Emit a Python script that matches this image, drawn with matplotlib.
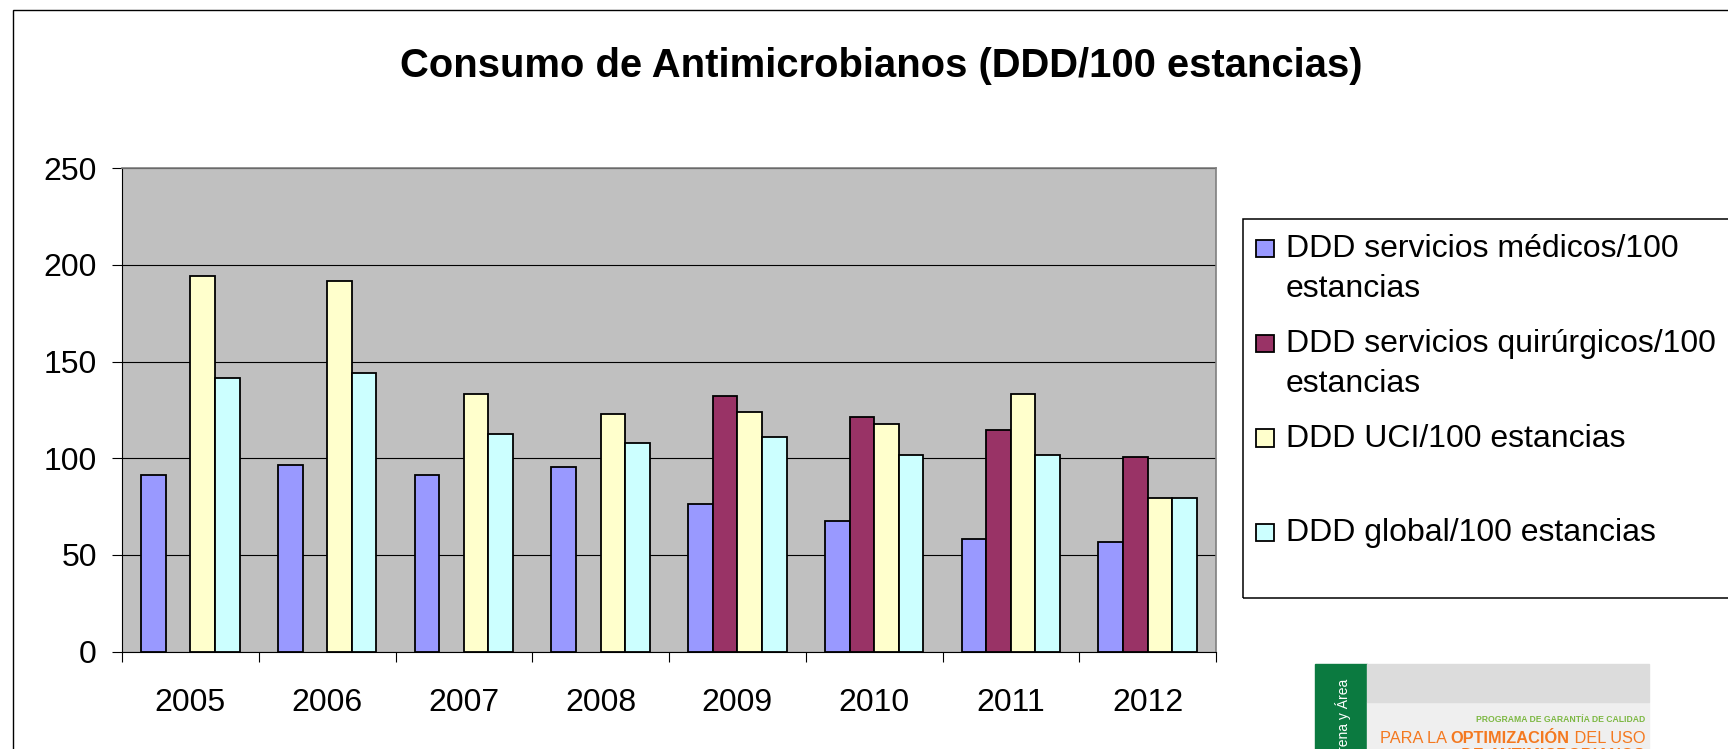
import matplotlib
matplotlib.use("Agg")
import matplotlib.pyplot as plt
import numpy as np
from matplotlib.patches import Rectangle

plt.rcParams["font.family"] = ["Liberation Sans", "DejaVu Sans"]

# datos
years = ["2005", "2006", "2007", "2008", "2009", "2010", "2011", "2012"]
medicos = [91.3, 96.4, 91.3, 95.2, 76.4, 67.5, 58.2, 56.8]
quirurgicos = [np.nan, np.nan, np.nan, np.nan, 132.1, 121.4, 114.8, 100.4]
uci = [194.2, 191.6, 133.4, 122.8, 124.1, 117.6, 133.4, 79.2]
global_ddd = [141.4, 144.1, 112.3, 108.1, 111.1, 101.8, 101.8, 79.2]

series_labels = ["DDD servicios médicos/100\nestancias",
                 "DDD servicios quirúrgicos/100\nestancias",
                 "DDD UCI/100 estancias",
                 "DDD global/100 estancias"]
colors = ["#9999FF", "#993366", "#FFFFCC", "#CCFFFF"]
title = "Consumo de Antimicrobianos (DDD/100 estancias)"

W, H = 1728, 749
fig = plt.figure(figsize=(W / 100, H / 100), dpi=100)


def fx(px):
    return px / W


def fy(py):
    return 1 - py / H


# marco exterior (solo se ven arriba y a la izquierda)
fig.add_artist(Rectangle((fx(12.5), -0.5), 2, fy(10) + 0.5, fill=False,
                         edgecolor="black", linewidth=1, transform=fig.transFigure))

fig.text(fx(881), fy(76.7), title, ha="center", va="baseline",
         fontsize=28.8, weight="bold")

ax = fig.add_axes([fx(122), fy(651.5), fx(1216) - fx(122), fy(168.3) - fy(651.5)])
ax.set_facecolor("#C0C0C0")

x = np.arange(len(years))
w = 0.18
all_series = [medicos, quirurgicos, uci, global_ddd]
for j, (vals, col) in enumerate(zip(all_series, colors)):
    ax.bar(x + (j - 1.5) * w, vals, width=w, color=col,
           edgecolor="black", linewidth=1.3, zorder=3)

ax.set_xlim(-0.5, len(years) - 0.5)
ax.set_ylim(0, 250)
ax.set_yticks(range(0, 251, 50))
ax.yaxis.grid(True, color="black", linewidth=0.8)
ax.set_axisbelow(True)

ax.set_xticks(x)
ax.set_xticklabels(years)
ax.set_xticks(np.arange(-0.5, len(years)), minor=True)
ax.tick_params(axis="x", which="major", length=0, pad=26, labelsize=23)
ax.tick_params(axis="x", which="minor", length=7.2, width=0.8, direction="out")
ax.tick_params(axis="y", length=7.2, width=0.8, pad=10.8, labelsize=23)

for s in ["top", "right"]:
    ax.spines[s].set_color("#808080")
    ax.spines[s].set_linewidth(1.2)
for s in ["left", "bottom"]:
    ax.spines[s].set_color("black")
    ax.spines[s].set_linewidth(0.8)

# leyenda dibujada a mano (como la de Excel)
fig.add_artist(Rectangle((fx(1243.3), fy(598.3)), 1, fy(219.3) - fy(598.3),
                         fill=False, edgecolor="black", linewidth=1.1,
                         transform=fig.transFigure))
for j, (lab, col) in enumerate(zip(series_labels, colors)):
    yb = 257.3 + j * 94.7
    fig.add_artist(Rectangle((fx(1255.5), fy(yb)), fx(18), fy(0) - fy(17.5),
                             facecolor=col, edgecolor="black", linewidth=1.3,
                             transform=fig.transFigure))
    for k, line in enumerate(lab.split("\n")):
        fig.text(fx(1286), fy(yb + k * 39.5), line, ha="left", va="baseline",
                 fontsize=23)

# logo del programa (abajo a la derecha, cortado)
fig.add_artist(Rectangle((fx(1315), fy(760)), fx(1366.7) - fx(1315), fy(664) - fy(760),
                         color="#0B7A40", transform=fig.transFigure))
fig.add_artist(Rectangle((fx(1366.7), fy(760)), fx(1649) - fx(1366.7), fy(702) - fy(760),
                         color="#EFEFEF", transform=fig.transFigure))
fig.add_artist(Rectangle((fx(1366.7), fy(702)), fx(1649) - fx(1366.7), fy(664) - fy(702),
                         color="#DCDCDC", transform=fig.transFigure))
fig.text(fx(1343), fy(679), "Hospital Virgen Macarena y Área", rotation=90,
         ha="center", va="top", color="white", fontsize=10)

fig.text(fx(1645), fy(721.7), "PROGRAMA DE GARANTÍA DE CALIDAD", ha="right",
         va="baseline", fontsize=6.2, weight="bold", color="#7DB843")

# lineas con trozos finos y en negrita, colocados de derecha a izquierda
renderer = fig.canvas.get_renderer()
orange = "#F47920"


def logo_line(pieces, right, base, size):
    xr = right
    for txt, wt in reversed(pieces):
        t = fig.text(fx(xr), fy(base), txt, ha="right", va="baseline",
                     fontsize=size, weight=wt, color=orange)
        xr -= t.get_window_extent(renderer).width


logo_line([("PARA LA ", "normal"), ("OPTIMIZACIÓN", "bold"), (" DEL USO", "normal")],
          1645, 743.3, 11.8)
logo_line([("DE ", "normal"), ("ANTIMICROBIANOS", "bold")], 1645, 760, 11.8)

fig.savefig("out.png", dpi=100)
